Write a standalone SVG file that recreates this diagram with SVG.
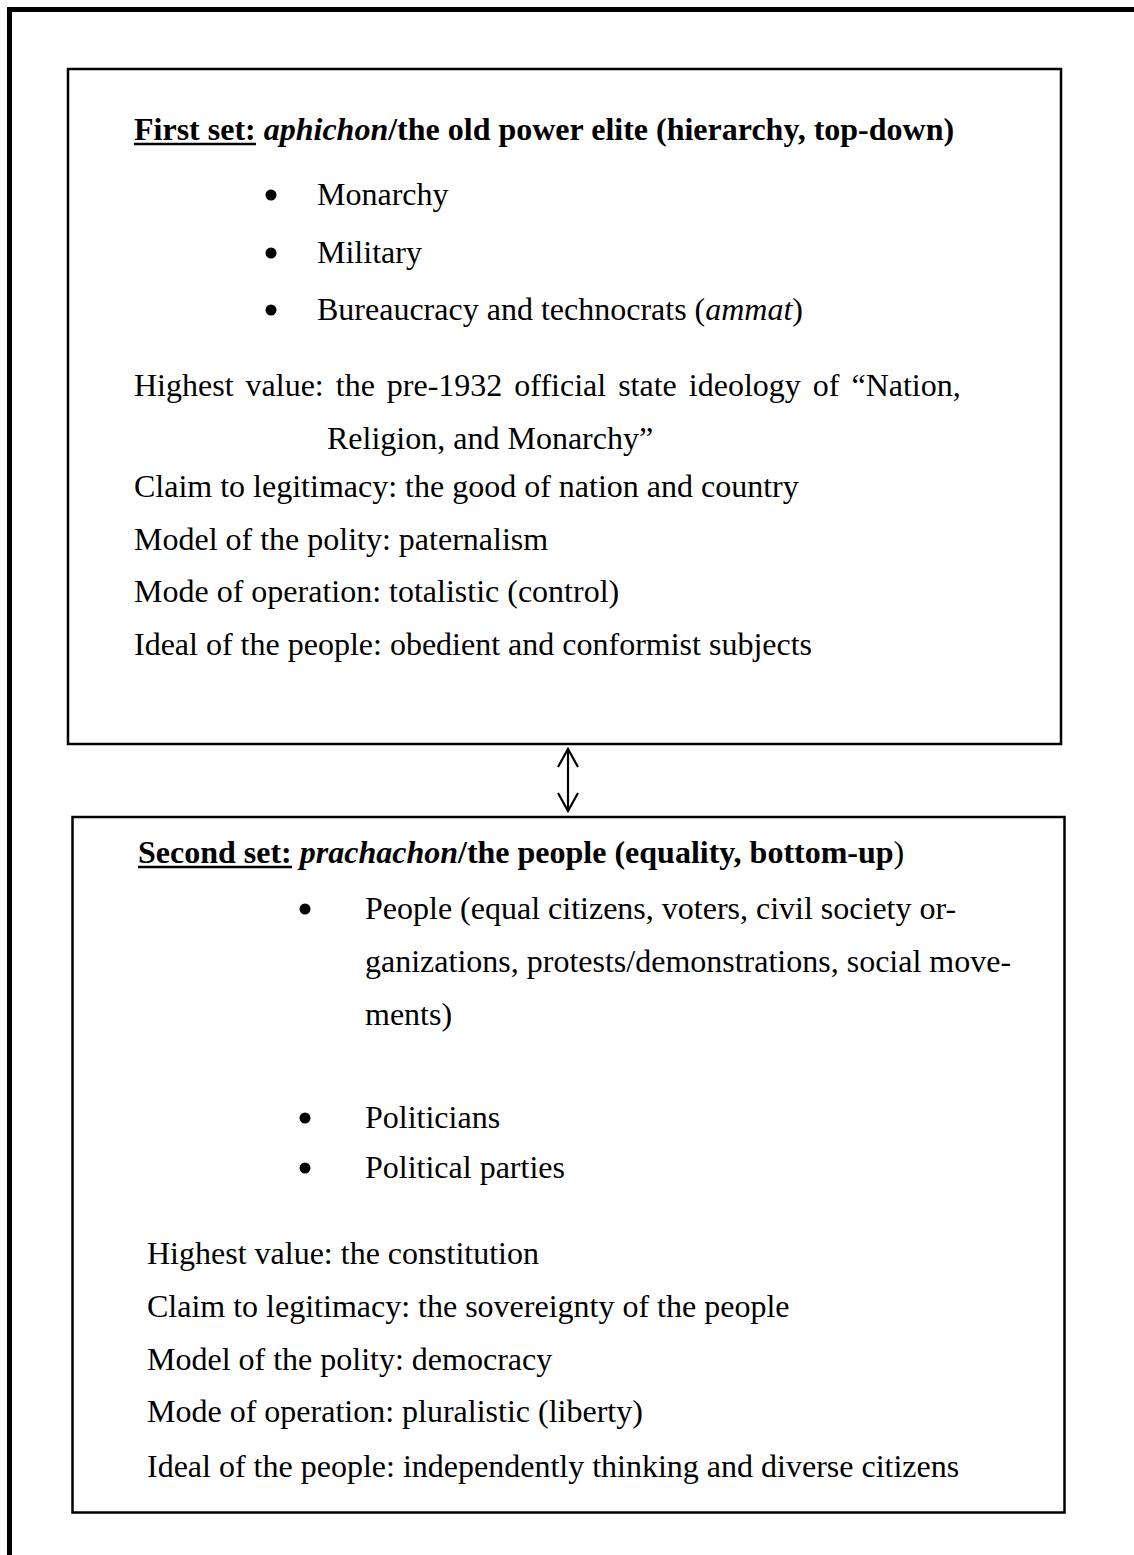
<svg xmlns="http://www.w3.org/2000/svg" width="1134" height="1555" viewBox="0 0 1134 1555">
<style>
  .t { font-family: "Liberation Serif", "Times New Roman", serif; font-size: 32px; fill: #000; }
  .b { font-weight: bold; }
  .i { font-style: italic; }
  .box { fill: #fff; stroke: #000; stroke-width: 2.5; }
  .ul { stroke: #000; stroke-width: 2.5; }
  .bul { fill: #000; }
  .conn { fill: none; stroke: #000; stroke-width: 2.2; }
</style>
<defs>
  <marker id="open" viewBox="0 0 24 24" refX="21" refY="12" markerWidth="24" markerHeight="24" markerUnits="userSpaceOnUse" orient="auto-start-reverse">
    <path d="M3,2 L21,12 L3,22" fill="none" stroke="#000" stroke-width="2.2"/>
  </marker>
</defs>
<rect width="1134" height="1555" fill="#fff"/>
<path id="frame" d="M9.5,1560 V9.5 H1140" fill="none" stroke="#000" stroke-width="5"/>

<g id="first-set">
  <rect class="box" x="68" y="69" width="993" height="675"/>
  <text class="t b" x="134" y="140">First set: <tspan class="i">aphichon</tspan>/the old power elite (hierarchy, top-down)</text>
  <line class="ul" x1="134" y1="144" x2="256" y2="144"/>
  <circle class="bul" cx="271" cy="195" r="5.5"/>
  <text class="t" x="317" y="205">Monarchy</text>
  <circle class="bul" cx="271" cy="253" r="5.5"/>
  <text class="t" x="317" y="263">Military</text>
  <circle class="bul" cx="271" cy="310" r="5.5"/>
  <text class="t" x="317" y="320">Bureaucracy and technocrats (<tspan class="i">ammat</tspan>)</text>
  <text class="t" x="134" y="396" word-spacing="4">Highest value: the pre-1932 official state ideology of “Nation,</text>
  <text class="t" x="327" y="449">Religion, and Monarchy”</text>
  <text class="t" x="134" y="497">Claim to legitimacy: the good of nation and country</text>
  <text class="t" x="134" y="550">Model of the polity: paternalism</text>
  <text class="t" x="134" y="602">Mode of operation: totalistic (control)</text>
  <text class="t" x="134" y="655">Ideal of the people: obedient and conformist subjects</text>
</g>

<g id="connectors">
  <path class="conn" d="M568,749 V811" marker-start="url(#open)" marker-end="url(#open)"/>
</g>

<g id="second-set">
  <rect class="box" x="72.5" y="817" width="992" height="695.5"/>
  <text class="t b" x="138" y="863">Second set: <tspan class="i">prachachon</tspan>/the people (equality, bottom-up<tspan font-weight="normal">)</tspan></text>
  <line class="ul" x1="138" y1="867" x2="292" y2="867"/>
  <circle class="bul" cx="305" cy="909" r="5.5"/>
  <text class="t" x="365" y="919">People (equal citizens, voters, civil society or-</text>
  <text class="t" x="365" y="972">ganizations, protests/demonstrations, social move-</text>
  <text class="t" x="365" y="1025">ments)</text>
  <circle class="bul" cx="305" cy="1118" r="5.5"/>
  <text class="t" x="365" y="1128">Politicians</text>
  <circle class="bul" cx="305" cy="1168" r="5.5"/>
  <text class="t" x="365" y="1178">Political parties</text>
  <text class="t" x="147" y="1264">Highest value: the constitution</text>
  <text class="t" x="147" y="1317">Claim to legitimacy: the sovereignty of the people</text>
  <text class="t" x="147" y="1370">Model of the polity: democracy</text>
  <text class="t" x="147" y="1422">Mode of operation: pluralistic (liberty)</text>
  <text class="t" x="147" y="1477">Ideal of the people: independently thinking and diverse citizens</text>
</g>
</svg>
